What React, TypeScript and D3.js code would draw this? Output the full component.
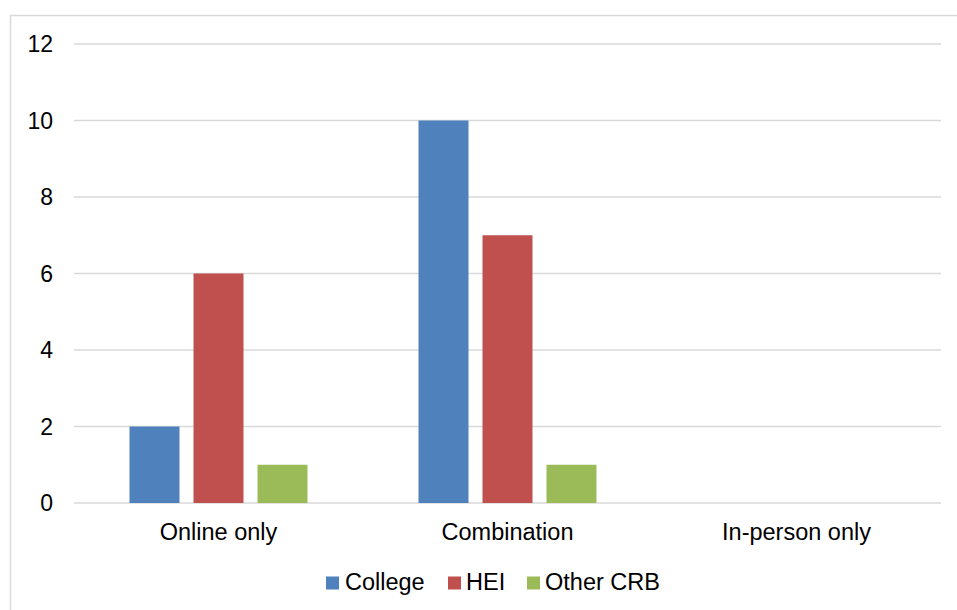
import React from "react";
import * as d3 from "d3";

const categories = ["Online only", "Combination", "In-person only"];
const seriesNames = ["College", "HEI", "Other CRB"];
const collegeValues = [2, 10, 0];
const heiValues = [6, 7, 0];
const otherCrbValues = [1, 1, 0];
const yTicks = [0, 2, 4, 6, 8, 10, 12];
const seriesColors = ["#4F81BD", "#C0504D", "#9BBB59"];

const W = 957;
const H = 610;
const plot = { left: 74, right: 941, top: 44, bottom: 503 };
const FONT = "'Liberation Sans', Arial, sans-serif";
const FS = 23.5;
const TICK_FS = 23;

export default function App() {
  const series = [collegeValues, heiValues, otherCrbValues];

  const x0 = d3
    .scaleBand<string>()
    .domain(categories)
    .range([plot.left, plot.right])
    .paddingInner(0)
    .paddingOuter(0);

  const groupWidth = 178;
  const x1 = d3
    .scaleBand<string>()
    .domain(seriesNames)
    .range([0, groupWidth])
    .paddingInner(14 / 64)
    .paddingOuter(0);

  const y = d3.scaleLinear().domain([0, 12]).range([plot.bottom, plot.top]);

  const legendItems = [
    { name: seriesNames[0], sq: 326, tx: 345 },
    { name: seriesNames[1], sq: 448, tx: 466 },
    { name: seriesNames[2], sq: 527, tx: 545 },
  ];

  return (
    <svg
      width={W}
      height={H}
      style={{ position: "absolute", left: 0, top: 0, background: "#fff" }}
      fontFamily={FONT}
    >
      <rect x={0} y={0} width={W} height={H} fill="#fff" />
      <rect
        x={10.5}
        y={15.5}
        width={W + 20}
        height={H + 20}
        fill="none"
        stroke="#d9d9d9"
        strokeWidth={1.5}
      />

      {yTicks.map((t) => (
        <g key={t}>
          <line
            x1={plot.left}
            x2={plot.right}
            y1={y(t)}
            y2={y(t)}
            stroke="#d9d9d9"
            strokeWidth={1.5}
          />
          <text
            x={53}
            y={y(t)}
            dy="0.36em"
            textAnchor="end"
            fontSize={TICK_FS}
            fill="#000"
          >
            {t}
          </text>
        </g>
      ))}

      {categories.map((c, ci) => {
        const gx = (x0(c) as number) + (x0.bandwidth() - groupWidth) / 2;
        return (
          <g key={c}>
            {seriesNames.map((s, si) => {
              const v = series[si][ci];
              if (v <= 0) return null;
              return (
                <rect
                  key={s}
                  x={gx + (x1(s) as number)}
                  y={y(v)}
                  width={x1.bandwidth()}
                  height={y(0) - y(v)}
                  fill={seriesColors[si]}
                />
              );
            })}
            <text
              x={(x0(c) as number) + x0.bandwidth() / 2}
              y={540}
              textAnchor="middle"
              fontSize={FS}
              fill="#000"
            >
              {c}
            </text>
          </g>
        );
      })}

      {legendItems.map((item, i) => (
        <g key={item.name}>
          <rect x={item.sq} y={576.5} width={13} height={13} fill={seriesColors[i]} />
          <text x={item.tx} y={590} fontSize={FS} fill="#000">
            {item.name}
          </text>
        </g>
      ))}
    </svg>
  );
}
